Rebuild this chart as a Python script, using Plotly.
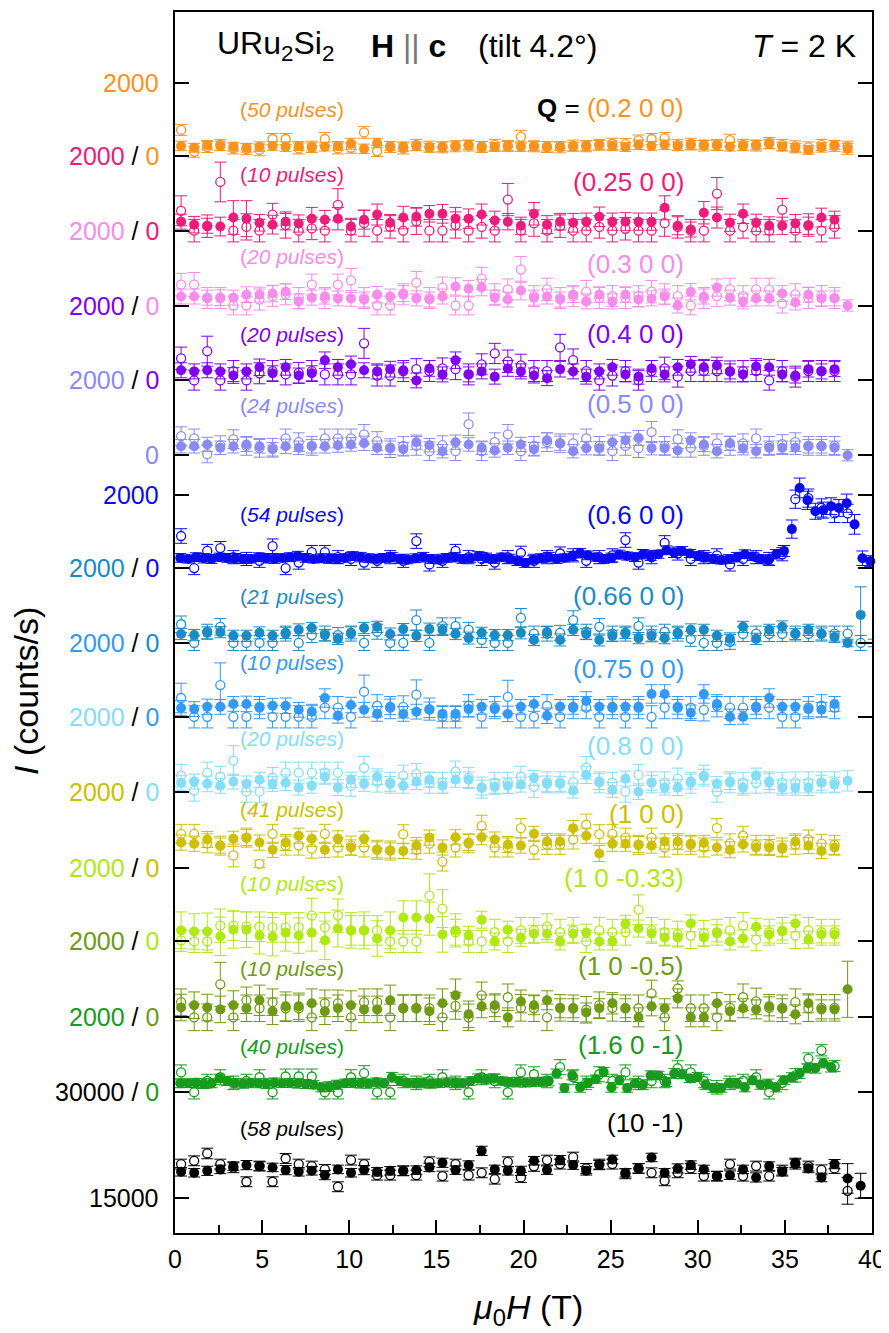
import plotly.graph_objects as go

FONT = "Liberation Sans, Arial, sans-serif"

# ---------------- x grids (magnetic field, T) ----------------
X = [0.35, 1.1, 1.85, 2.6, 3.35, 4.1, 4.85, 5.6, 6.35, 7.1,
     7.85, 8.6, 9.35, 10.1, 10.85, 11.6, 12.35, 13.1, 13.85, 14.6,
     15.35, 16.1, 16.85, 17.6, 18.35, 19.1, 19.85, 20.6, 21.35, 22.1,
     22.85, 23.6, 24.35, 25.1, 25.85, 26.6, 27.35, 28.1, 28.85, 29.6,
     30.35, 31.1, 31.85, 32.6, 33.35, 34.1, 34.85, 35.6, 36.35, 37.1,
     37.85, 38.6, 39.35, 40.1]
XD = [0.3, 0.75, 1.2, 1.65, 2.1, 2.55, 3.0, 3.45, 3.9, 4.35,
      4.8, 5.25, 5.7, 6.15, 6.6, 7.05, 7.5, 7.95, 8.4, 8.85,
      9.3, 9.75, 10.2, 10.65, 11.1, 11.55, 12.0, 12.45, 12.9, 13.35,
      13.8, 14.25, 14.7, 15.15, 15.6, 16.05, 16.5, 16.95, 17.4, 17.85,
      18.3, 18.75, 19.2, 19.65, 20.1, 20.55, 21.0, 21.45, 21.9, 22.35,
      22.8, 23.25, 23.7, 24.15, 24.6, 25.05, 25.5, 25.95, 26.4, 26.85,
      27.3, 27.75, 28.2, 28.65, 29.1, 29.55, 30.0, 30.45, 30.9, 31.35,
      31.8, 32.25, 32.7, 33.15, 33.6, 34.05, 34.5, 34.95, 35.4, 35.85,
      36.3, 36.75, 37.2, 37.65, 38.1, 38.55, 39.0, 39.45, 39.9]

# ---------------- Q = (0.2 0 0) ----------------
Q020_F = [270,220,300,270,250,220,250,270,250,270, 220,250,270,330,190,350,270,250,260,220,
          250,280,300,260,240,270,250,270,260,260, 250,280,300,270,240,300,270,300,260,290,
          300,280,250,270,300,320,250,210,160,230, 300,190]
Q020_FE = [130,120,120,130,120,120,130,120,130,120, 130,120,120,150,130,130,120,130,120,120,
           130,120,120,130,120,120,130,120,130,120, 120,130,120,130,120,130,120,130,120,130,
           120,130,120,130,120,130,120,130,120,130, 120,150]
Q020_O = [710,110,240,300,200,180,160,460,460,200, 250,460,200,220,640,130,240,200,300,250,
          230,260,280,240,300,270,520,260,240,230, 280,260,300,330,320,420,460,480,300,330,
          280,300,430,300,280,350,300,260,230,300, 270,250]
Q020_OE = [150,150,150,150,150,150,160,150,150,150, 150,180,150,150,160,150,150,150,150,150,
           150,150,150,150,150,150,170,150,150,150, 150,150,150,150,150,150,150,160,150,150,
           150,150,160,150,150,150,150,150,150,150, 150,150]

# ---------------- Q = (0.25 0 0) ----------------
Q025_F = [240,160,130,110,350,320,210,160,240,190, 320,290,320,110,290,430,210,350,370,450,
          450,320,320,430,270,240,130,450,160,240, 210,240,370,240,240,240,240,610,130,30,
          480,350,210,450,210,130,130,190,130,350, 290]
Q025_FE = [200,220,200,250,450,480,220,250,220,230, 300,250,300,220,250,280,220,300,250,220,
           250,300,260,280,250,220,230,300,240,220, 250,230,260,230,240,230,230,320,240,200,
           300,280,230,260,230,240,230,240,230,250, 230]
Q025_O = [530,0,120,1300,0,100,0,430,150,0, 60,0,690,0,200,0,100,0,250,0,
          0,150,0,100,0,830,0,200,0,120, 0,0,100,0,50,0,0,200,100,0,
          0,990,0,100,0,0,560,0,150,0, 100]
Q025_OE = [400,300,300,530,300,350,300,300,350,300, 300,300,430,300,350,300,300,300,350,300,
           300,350,300,300,300,430,300,350,300,300, 300,300,300,300,300,300,300,350,300,300,
           300,430,300,300,300,300,300,300,300,300, 300]

# ---------------- Q = (0.3 0 0) ----------------
Q030_F = [240,240,210,210,210,290,290,320,370,110, 210,240,190,190,160,290,240,320,190,160,
          240,510,450,480,210,160,400,210,240,160, 290,110,290,110,290,160,190,240,0,370,
          240,480,210,110,190,190,320,80,290,190, 190,0]
Q030_FE = [200,200,200,210,200,210,200,220,210,200, 200,200,200,210,200,220,200,210,200,200,
           200,230,220,220,200,200,250,200,200,200, 210,200,210,200,210,200,200,200,200,220,
           200,230,200,200,200,200,210,200,200,200, 200,150]
Q030_O = [560,560,200,200,0,0,160,250,300,200, 560,200,560,670,200,0,0,300,610,200,
          480,0,0,720,300,430,960,250,430,200, 250,370,200,250,200,250,370,300,250,0,
          200,250,430,250,430,430,50,300,200,250, 200]
Q030_OE = [300,320,280,280,250,250,280,280,280,280, 280,280,280,320,280,250,250,280,300,280,
           280,250,250,300,280,280,350,280,300,280, 280,300,280,280,280,280,300,280,280,250,
           280,280,300,280,300,300,250,280,280,280, 280]

# ---------------- Q = (0.4 0 0) ----------------
Q040_F = [270,240,270,240,130,240,350,190,350,130, 190,540,350,430,270,240,300,270,0,320,
          160,540,160,240,100,320,240,130,60,300, 240,100,240,350,160,100,320,160,350,430,
          350,400,240,160,370,350,160,130,300,240, 300]
Q040_FE = [200,200,200,200,210,200,220,200,210,200, 200,220,210,220,200,200,210,200,200,210,
           200,220,200,200,200,210,200,200,200,210, 200,200,200,210,200,200,210,200,210,210,
           210,220,200,200,210,210,200,200,210,200, 200]
Q040_O = [590,0,780,0,250,0,190,250,160,200, 250,160,160,160,990,130,130,250,300,250,
          320,300,160,430,720,510,400,250,250,880, 540,250,0,130,250,0,250,320,100,250,
          250,250,240,250,250,0,250,100,250,250, 250]
Q040_OE = [300,260,400,260,280,260,280,280,280,280, 280,280,280,280,400,280,280,280,280,280,
           280,280,280,280,270,300,300,280,280,350, 300,280,260,280,280,260,280,300,280,280,
           280,280,280,280,280,260,280,280,280,280, 280]

# ---------------- Q = (0.5 0 0) ----------------
Q050_F = [240,240,290,200,240,290,240,160,240,200, 240,240,270,290,320,200,200,160,350,270,
          110,350,290,200,130,200,290,160,400,320, 110,190,190,350,400,460,190,190,130,400,
          290,110,320,190,110,200,200,200,240,240, 200,0]
Q050_FE = [180,180,190,180,180,190,180,180,190,180, 180,180,190,180,190,180,180,180,190,180,
           180,190,180,180,180,180,190,180,200,190, 180,180,180,190,200,200,180,180,180,200,
           190,180,190,180,180,180,180,180,180,180, 180,150]
Q050_O = [510,450,30,270,430,250,200,200,450,350, 250,450,450,450,560,380,190,250,250,110,
          270,110,830,110,350,560,110,250,350,320, 320,450,250,110,250,190,620,250,430,200,
          250,320,250,320,450,250,300,350,250,250, 250]
Q050_OE = [250,250,230,250,250,250,250,250,250,250, 250,250,250,250,260,250,250,250,250,250,
           250,250,300,250,250,260,250,250,250,250, 250,250,250,250,250,250,280,250,250,250,
           250,250,250,250,250,250,250,250,250,250, 250]

# ---------------- Q = (0.6 0 0)  (dense field grid for filled points) ----------------
Q060_F = [280,250,300,270,250,300,280,270,250,250, 300,270,250,280,300,330,280,250,270,260,
          250,280,330,300,270,250,280,300,250,230, 270,300,250,230,280,300,250,270,330,280,
          250,300,260,200,140,230,270,300,250,280, 330,410,350,300,250,280,370,330,300,380,
          330,380,490,420,470,400,330,300,250,220, 250,300,380,320,250,220,380,470,1070,2200,
          1860,1560,1590,1700,1650,1780,1200,270,190]
Q060_FE = [120,110,120,130,120,110,120,130,120,110, 120,130,120,110,120,130,120,110,120,130,
           120,110,120,130,120,110,120,130,120,110, 120,130,120,110,120,130,120,110,120,130,
           120,110,120,130,120,110,120,130,120,110, 120,130,120,110,120,130,120,110,120,130,
           120,110,120,130,120,110,120,130,120,110, 120,130,120,110,120,130,130,150,250,270,
           250,220,220,230,230,250,270,200,150]
Q060_O = [880,0,470,550,300,250,200,600,0,150, 440,440,300,250,150,200,300,200,740,100,
          200,470,300,250,150,300,420,200,300,400, 350,200,300,350,770,150,300,690,400,250,
          300,350,100,250,300,250,380,1890,1920,1650, 1500,1500]
Q060_OE = [200,180,180,180,180,180,180,200,180,180, 180,180,180,180,180,180,180,180,200,180,
           180,180,180,180,180,180,180,180,180,180, 180,180,180,180,200,180,180,200,180,180,
           180,180,180,180,180,180,180,250,250,250, 250,250]

# ---------------- Q = (0.66 0 0) ----------------
Q066_F = [240,210,270,290,190,190,270,190,270,350, 400,210,110,270,400,430,240,370,190,370,
          350,240,130,270,210,210,270,80,290,80, 350,240,80,190,270,130,190,130,270,350,
          350,190,110,430,110,350,430,240,350,240, 160,0,750,0]
Q066_FE = [150,150,160,150,150,150,160,150,150,160, 150,150,150,160,150,150,160,150,150,160,
           150,150,160,150,150,150,160,150,150,160, 150,150,160,150,150,150,160,150,150,160,
           150,150,160,150,150,150,160,150,150,160, 150,100,750,100]
Q066_O = [500,0,300,430,0,0,0,0,250,0, 210,250,210,250,0,300,0,0,610,0,
          450,450,350,80,0,0,670,250,250,270, 610,300,430,250,250,450,250,300,250,110,
          0,0,30,240,250,240,240,250,240,250, 250,250,0]
Q066_OE = [220,200,200,220,200,200,200,200,200,200, 200,200,200,200,200,200,200,200,270,200,
           220,220,200,200,200,200,250,200,200,200, 250,200,220,200,200,220,200,200,200,200,
           200,200,200,200,200,200,200,200,200,200, 200,200,200]

# ---------------- Q = (0.75 0 0) ----------------
Q075_F = [240,210,270,270,350,350,270,300,300,190, 140,510,30,320,190,80,270,80,140,190,
          80,80,210,270,210,80,270,350,30,270, 270,430,270,270,270,270,620,620,270,110,
          620,350,0,0,270,510,270,270,210,190, 350]
Q075_FE = [200,200,210,200,200,210,200,200,210,200, 200,250,200,210,200,200,210,200,200,210,
           200,200,210,200,200,210,200,200,210,200, 200,250,200,210,200,200,250,250,200,210,
           250,200,210,200,200,250,200,200,210,200, 200]
Q075_O = [510,0,0,860,0,0,250,0,0,0, 0,250,250,0,680,300,250,270,600,210,
          0,0,300,0,250,540,0,0,300,0, 250,250,0,250,0,250,0,250,250,250,
          190,300,250,250,250,250,0,0,250,300, 250]
Q075_OE = [400,300,300,600,300,300,300,300,300,300, 300,300,300,300,450,300,300,300,400,300,
           300,300,300,300,300,450,300,300,300,300, 300,300,300,300,300,300,300,300,300,300,
           300,300,300,300,300,300,300,300,300,300, 300]

# ---------------- Q = (0.8 0 0) ----------------
Q080_F = [240,270,210,160,270,210,320,210,240,110, 160,400,110,320,210,400,210,160,270,320,
          160,320,320,110,130,160,190,370,210,210, 30,450,270,50,350,0,240,110,110,270,
          400,210,270,110,430,270,110,110,110,240, 190,290]
Q080_FE = [200,200,210,200,200,210,200,200,210,200, 200,200,210,200,200,210,200,200,210,200,
           200,200,210,200,200,210,200,200,210,200, 200,230,210,200,200,210,200,200,210,200,
           200,200,210,200,200,210,200,200,210,200, 200,270]
Q080_O = [430,30,510,400,830,0,0,370,510,510, 510,510,510,160,640,270,240,430,470,240,
          240,540,370,110,240,240,400,130,250,250, 250,640,250,240,0,450,250,250,350,240,
          430,0,250,240,240,250,240,250,250,250, 250]
Q080_OE = [300,280,280,280,400,280,280,280,280,280, 280,280,280,280,300,280,280,280,280,280,
           280,280,280,280,280,280,280,280,280,280, 280,300,280,280,280,280,280,280,280,280,
           280,280,280,280,280,280,280,280,280,280, 280]

# ---------------- Q = (1 0 0) ----------------
Q100_F = [660,630,740,580,760,790,660,470,660,840, 760,470,760,530,760,470,450,440,580,790,
          530,800,660,800,740,610,580,890,690,690, 1040,840,370,630,630,610,580,690,690,630,
          650,530,470,610,530,530,500,690,580,440, 530]
Q100_FE = [200,200,210,200,200,210,200,200,210,200, 200,200,210,200,200,210,200,200,210,200,
           200,200,210,200,200,210,200,200,210,200, 200,200,210,200,200,210,200,200,210,200,
           200,200,210,200,200,210,200,200,210,200, 200]
Q100_O = [890,890,640,580,320,790,100,890,580,580, 500,890,530,580,530,470,450,880,470,630,
          160,530,640,1100,530,530,1040,470,600,600, 740,1130,880,890,790,600,790,530,600,600,
          530,1040,640,840,600,600,530,600,740,630, 600]
Q100_OE = [250,250,250,250,300,250,100,250,250,250, 250,250,250,250,250,250,250,250,250,250,
           250,250,250,280,250,250,250,250,250,250, 250,280,250,250,250,250,250,250,250,250,
           250,250,250,250,250,250,250,250,250,250, 250]

# ---------------- Q = (1 0 -0.33) ----------------
Q10033_F = [300,270,270,140,320,320,160,130,240,160, 240,30,350,300,300,80,300,650,650,620,
            190,300,160,590,0,320,100,210,210,0, 210,240,0,0,480,350,220,110,110,490,
            110,220,0,80,400,190,270,490,50,190, 190]
Q10033_FE = [500,480,500,520,500,480,500,520,500,480, 500,520,500,480,500,480,500,450,450,450,
             480,450,250,230,230,230,230,230,230,230, 230,230,230,230,230,230,230,230,230,230,
             230,230,230,230,230,230,230,230,230,230, 230]
Q10033_O = [30,0,0,430,430,400,400,380,380,380, 700,380,700,300,300,300,0,0,0,1240,
            890,250,0,0,250,0,300,300,400,250, 300,0,300,250,250,860,300,250,200,160,
            220,250,300,430,50,250,300,160,300,250, 250]
Q10033_OE = [300,300,300,450,400,400,400,400,400,400, 470,400,450,400,400,400,300,300,300,590,
             510,350,300,300,350,300,350,350,350,350, 350,300,350,350,350,400,350,350,350,350,
             350,350,350,350,300,350,350,350,350,350, 350]

# ---------------- Q = (1 0 -0.5) ----------------
Q1005_F = [260,320,260,210,320,240,450,160,290,290, 370,160,240,320,210,210,450,240,240,160,
           370,580,80,290,320,0,420,320,450,240, 240,130,240,370,240,0,290,240,500,0,
           0,370,160,240,210,290,240,80,370,210, 210,740]
Q1005_FE = [350,350,350,350,380,350,400,350,380,350, 380,350,350,380,350,350,400,350,350,350,
            380,430,350,300,300,250,300,250,250,250, 250,250,250,280,250,250,250,250,250,250,
            250,280,250,250,250,250,250,250,250,250, 250,740]
Q1005_O = [400,0,0,870,0,450,240,400,240,240, 0,370,370,0,400,400,0,240,240,240,
           0,300,0,580,240,530,250,240,0,250, 240,200,320,250,240,240,630,0,760,240,
           240,0,250,530,420,250,240,400,240,250, 250]
Q1005_OE = [350,350,350,580,350,350,350,350,350,350, 350,350,350,350,350,350,350,350,350,350,
            350,350,350,350,350,350,350,350,350,350, 350,350,350,350,350,350,350,350,200,350,
            350,350,350,350,350,350,350,350,350,350, 350]

# ---------------- Q = (1.6 0 -1)  (dense field grid for filled points) ----------------
Q161_F = [240,240,250,230,240,370,300,240,230,250, 240,230,260,240,250,240,220,200,130,150,
          200,240,250,240,230,270,240,400,300,250, 240,250,230,240,260,250,240,300,370,350,
          370,300,270,270,260,270,280,300,500,110, 450,130,250,350,540,130,320,110,240,200,
          450,450,270,500,480,370,410,200,110,110, 240,240,130,320,200,220,130,320,400,500,
          640,640,780,670]
Q161_FE = [120,110,120,130,120,110,120,130,120,110, 120,130,120,110,120,130,120,110,120,130,
           120,110,120,130,120,110,120,130,120,110, 120,130,120,110,120,130,120,110,120,130,
           120,110,120,130,120,110,120,130,120,110, 120,130,120,110,120,130,120,110,120,130,
           120,110,120,130,120,110,120,130,120,110, 120,130,120,110,120,130,120,110,120,130,
           120,130,130,130]
Q161_O = [530,0,300,400,250,300,400,0,420,420, 420,0,0,400,510,0,0,300,250,300,
          400,250,0,400,300,0,530,480,300,670, 400,250,480,300,530,250,300,300,640,530,
          300,130,250,300,400,0,250,450,900,1120, 700]
Q161_OE = [200,180,180,200,180,180,200,180,200,200, 200,180,180,200,200,180,180,180,180,180,
           200,180,180,200,180,180,200,200,180,200, 200,180,200,180,200,180,180,180,200,200,
           180,180,180,180,200,180,180,180,150,150, 150]

# ---------------- Q = (1 0 -1) ----------------
Q101_F = [18720,18580,18860,19060,19530,19670,19530,19340,18960,18720,
          18860,18250,19060,18580,18960,18720,18860,18860,18960,19340,
          20000,18960,19670,21690,19060,18860,18860,20280,18960,20380,
          19670,18860,19670,20470,18580,19200,20750,18580,19200,19670,
          19060,18110,18250,19060,17920,19530,18720,20000,19200,17920,
          19810,17780,16740]
Q101_FE = [600,600,650,600,600,650,600,600,650,600, 600,650,600,600,650,600,600,650,600,600,
           650,600,600,650,600,600,650,600,600,650, 600,600,650,600,600,650,600,600,650,600,
           600,650,600,600,650,600,600,650,600,600, 650,2100,1770]
Q101_O = [19810,20280,21320,19810,19300,17310,19530,17310,20610,19810,
          19530,19060,16600,20380,19810,18250,18250,18860,18250,20140,
          18110,19810,18250,18580,17680,20140,17920,19500,20380,19810,
          20800,19200,19810,19810,18440,19200,18580,17450,18580,19200,
          18110,18110,19810,18110,19530,18110,18960,19810,19530,19000,
          19200,16030]
Q101_OE = [700,700,750,700,700,700,700,700,700,700, 700,700,700,700,700,700,700,700,700,700,
           700,700,700,700,700,700,700,700,700,700, 700,700,700,700,700,700,700,700,700,700,
           700,700,700,700,700,700,700,700,700,700, 700,1900]

# ---------------- labels ----------------
Q_LABELS = ["(0.2 0 0)", "(0.25 0 0)", "(0.3 0 0)", "(0.4 0 0)", "(0.5 0 0)", "(0.6 0 0)",
            "(0.66 0 0)", "(0.75 0 0)", "(0.8 0 0)", "(1 0 0)", "(1 0 -0.33)", "(1 0 -0.5)",
            "(1.6 0 -1)", "(10 -1)"]
PULSES = [50, 10, 20, 20, 24, 54, 21, 10, 20, 41, 10, 10, 40, 58]
COLORS = ["#F7931E", "#EC1C7C", "#F78CEB", "#8000F0", "#8A8AF5", "#0A0AF0", "#1A8BC4",
          "#3399F5", "#85DDF7", "#CCC000", "#B0E816", "#6E9A14", "#189A1E", "#000000"]

FILLED = [Q020_F, Q025_F, Q030_F, Q040_F, Q050_F, Q060_F, Q066_F, Q075_F, Q080_F,
          Q100_F, Q10033_F, Q1005_F, Q161_F, Q101_F]
FILLED_ERR = [Q020_FE, Q025_FE, Q030_FE, Q040_FE, Q050_FE, Q060_FE, Q066_FE, Q075_FE, Q080_FE,
              Q100_FE, Q10033_FE, Q1005_FE, Q161_FE, Q101_FE]
OPEN = [Q020_O, Q025_O, Q030_O, Q040_O, Q050_O, Q060_O, Q066_O, Q075_O, Q080_O,
        Q100_O, Q10033_O, Q1005_O, Q161_O, Q101_O]
OPEN_ERR = [Q020_OE, Q025_OE, Q030_OE, Q040_OE, Q050_OE, Q060_OE, Q066_OE, Q075_OE, Q080_OE,
            Q100_OE, Q10033_OE, Q1005_OE, Q161_OE, Q101_OE]
FILLED_GRID = [X, X, X, X, X, XD, X, X, X, X, X, X, XD, X]

# ---------------- geometry (pixels in the 889x1333 window) ----------------
BODY = 8                       # default page margin around the plot div
W, H = 889 - BODY, 1333 - BODY
PL, PR, PT, PB = 175, 872, 10, 1233      # plot area in window pixels
# per panel: (low tick value, its pixel row, high tick value, its pixel row)
PANEL_TICKS = [(0, 154, 2000, 81), (0, 229, 2000, 154), (0, 304, 2000, 229), (0, 379, 2000, 304),
               (0, 454, 2000, 379), (0, 567, 2000, 494), (0, 642, 2000, 567), (0, 716, 2000, 642),
               (0, 791, 2000, 716), (0, 867, 2000, 791), (0, 941, 2000, 867), (0, 1017, 2000, 941),
               (0, 1092, 2000, 1017), (15000, 1198, 30000, 1092)]
Q_ROWS = [106, 180, 262, 333, 403, 514, 595, 668, 745, 813, 877, 966, 1045, 1123]
PULSE_ROWS = [108, 173, 255, 333, 404, 513, 595, 662, 738, 809, 883, 968, 1046, 1128]


def fy(px):
    return (PB - px) / (PB - PT)


def fx(px):
    return (px - PL) / (PR - PL)


def axis_range(v0, p0, v1, p1):
    f0, f1 = fy(p0), fy(p1)
    s = (v1 - v0) / (f1 - f0)
    lo = v0 - f0 * s
    return [lo, lo + s]


fig = go.Figure()

for i in range(len(FILLED)):
    yref = "y" if i == 0 else f"y{i + 1}"
    c = COLORS[i]
    yo = OPEN[i]
    fig.add_trace(go.Scatter(
        x=X[:len(yo)], y=yo, xaxis="x", yaxis=yref, mode="markers",
        marker=dict(symbol="circle", size=9, color="white", line=dict(color=c, width=1.3)),
        error_y=dict(type="data", array=OPEN_ERR[i][:len(yo)], color=c, thickness=1, width=6),
        cliponaxis=False, hoverinfo="skip", showlegend=False))
    yf = FILLED[i]
    fig.add_trace(go.Scatter(
        x=FILLED_GRID[i][:len(yf)], y=yf, xaxis="x", yaxis=yref, mode="markers",
        marker=dict(symbol="circle", size=10, color=c, line=dict(width=0)),
        error_y=dict(type="data", array=FILLED_ERR[i][:len(yf)], color=c, thickness=1, width=6),
        cliponaxis=False, hoverinfo="skip", showlegend=False))

layout_axes = {}
for i, (v0, p0, v1, p1) in enumerate(PANEL_TICKS):
    ax = dict(range=axis_range(v0, p0, v1, p1), tickvals=[v0, v1], ticks="inside", ticklen=14,
              tickwidth=2, tickcolor="black", showticklabels=False, showgrid=False,
              zeroline=False, showline=True, linewidth=2, linecolor="black", mirror="ticks",
              anchor="x", fixedrange=True)
    if i == 0:
        ax["domain"] = [0, 1]
        layout_axes["yaxis"] = ax
    else:
        ax["overlaying"] = "y"
        layout_axes[f"yaxis{i + 1}"] = ax

fig.update_layout(
    width=W, height=H,
    margin=dict(l=PL - BODY, r=889 - PR, t=PT - BODY, b=1333 - PB),
    paper_bgcolor="white", plot_bgcolor="white", showlegend=False,
    font=dict(family=FONT, color="black"),
    xaxis=dict(range=[0, 40], tickvals=[0, 5, 10, 15, 20, 25, 30, 35, 40], ticks="inside",
               ticklen=13, tickwidth=2, tickcolor="black", showline=True, linewidth=2,
               linecolor="black", mirror=True, showgrid=False, zeroline=False,
               tickfont=dict(size=25, family=FONT), ticklabelstandoff=3,
               minor=dict(tickvals=[2.5, 7.5, 12.5, 17.5, 22.5, 27.5, 32.5, 37.5],
                          ticks="inside", ticklen=8, tickwidth=2, tickcolor="black"),
               fixedrange=True),
    **layout_axes,
)

ann = []


def span(t, c):
    return f"<span style='color:{c}'>{t}</span>"


# left tick labels
LEFT_LABELS = [
    (0, 2000, span("2000", COLORS[0])),
    (0, 0, span("2000", COLORS[1]) + " / " + span("0", COLORS[0])),
    (1, 0, span("2000", COLORS[2]) + " / " + span("0", COLORS[1])),
    (2, 0, span("2000", COLORS[3]) + " / " + span("0", COLORS[2])),
    (3, 0, span("2000", COLORS[4]) + " / " + span("0", COLORS[3])),
    (4, 0, span("0", COLORS[4])),
    (5, 2000, span("2000", COLORS[5])),
    (5, 0, span("2000", COLORS[6]) + " / " + span("0", COLORS[5])),
    (6, 0, span("2000", COLORS[7]) + " / " + span("0", COLORS[6])),
    (7, 0, span("2000", COLORS[8]) + " / " + span("0", COLORS[7])),
    (8, 0, span("2000", COLORS[9]) + " / " + span("0", COLORS[8])),
    (9, 0, span("2000", COLORS[10]) + " / " + span("0", COLORS[9])),
    (10, 0, span("2000", COLORS[11]) + " / " + span("0", COLORS[10])),
    (11, 0, span("2000", COLORS[12]) + " / " + span("0", COLORS[11])),
    (12, 0, "30000 / " + span("0", COLORS[12])),
    (13, 15000, "15000"),
]
for pi, v, txt in LEFT_LABELS:
    yref = "y" if pi == 0 else f"y{pi + 1}"
    ann.append(dict(x=fx(161), xref="paper", y=v, yref=yref, text=txt, showarrow=False,
                    xanchor="right", yanchor="middle", font=dict(size=25, family=FONT, color="black")))

for i in range(len(Q_LABELS)):
    txt = span(Q_LABELS[i], COLORS[i])
    if i == 0:
        txt = "<b>Q</b> = " + txt
    ann.append(dict(x=fx(686), xref="paper", y=fy(Q_ROWS[i]), yref="paper", text=txt,
                    showarrow=False, xanchor="right", yanchor="middle",
                    font=dict(size=26, family=FONT, color="black")))
    ann.append(dict(x=fx(238), xref="paper", y=fy(PULSE_ROWS[i]), yref="paper",
                    text=f"(<i>{PULSES[i]} pulses</i>)", showarrow=False, xanchor="left",
                    yanchor="middle", font=dict(size=21, family=FONT, color=COLORS[i])))

# header texts
ann.append(dict(x=fx(215), xref="paper", y=fy(44), yref="paper",
                text="URu<sub>2</sub>Si<sub>2</sub>", showarrow=False, xanchor="left",
                yanchor="middle", font=dict(size=32, family=FONT, color="black")))
ann.append(dict(x=fx(369), xref="paper", y=fy(44), yref="paper",
                text="<b>H</b> <span style='color:#777777'>||</span> <b>c</b>", showarrow=False,
                xanchor="left", yanchor="middle", font=dict(size=32, family=FONT, color="black")))
ann.append(dict(x=fx(476), xref="paper", y=fy(44), yref="paper", text="(tilt 4.2°)",
                showarrow=False, xanchor="left", yanchor="middle",
                font=dict(size=32, family=FONT, color="black")))
ann.append(dict(x=fx(858), xref="paper", y=fy(44), yref="paper", text="<i>T</i> = 2 K",
                showarrow=False, xanchor="right", yanchor="middle",
                font=dict(size=32, family=FONT, color="black")))

# axis titles
ann.append(dict(x=fx(26), xref="paper", y=fy(690), yref="paper", text="<i>I</i> (counts/s)",
                textangle=-90, showarrow=False, xanchor="center", yanchor="middle",
                font=dict(size=34, family=FONT, color="black")))
ann.append(dict(x=fx(528), xref="paper", y=fy(1310), yref="paper",
                text="<i>μ</i><sub>0</sub><i>H</i> (T)", showarrow=False, xanchor="center",
                yanchor="middle", font=dict(size=34, family=FONT, color="black")))

fig.update_layout(annotations=ann)
fig.write_html("out.html")
